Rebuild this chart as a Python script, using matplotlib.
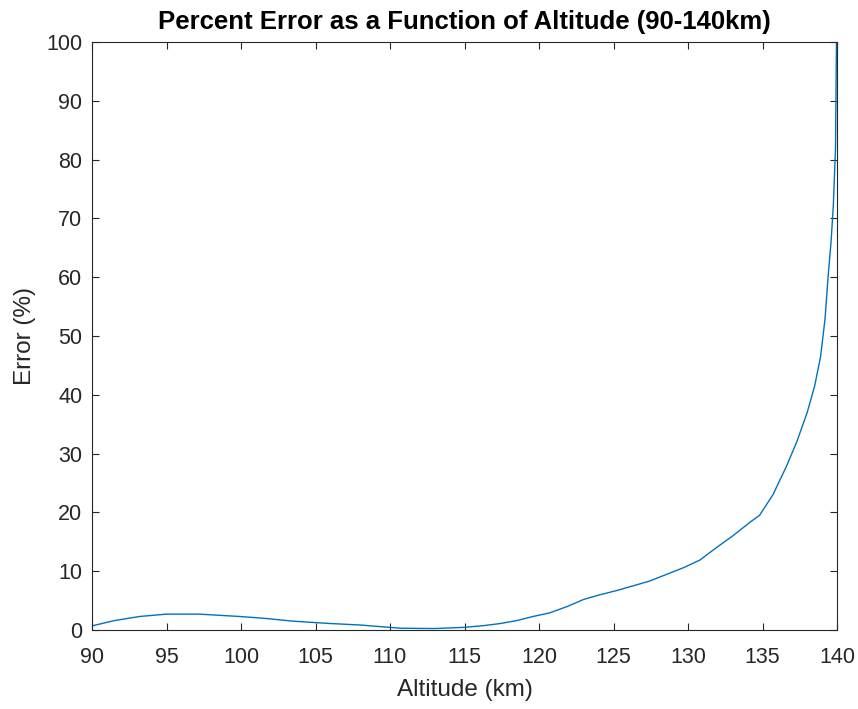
import numpy as np
import matplotlib
matplotlib.use("Agg")
import matplotlib.pyplot as plt

plt.rcParams['font.family'] = ['Liberation Sans', 'DejaVu Sans']

# values
altitude = [90.0, 91.5, 93.2, 95.0, 97.2, 99.9, 101.5, 103.5, 106.0, 108.0, 110.7,
            113.0, 115.0, 116.3, 117.4, 118.5, 119.6, 120.7, 121.9, 123.0, 124.1,
            125.2, 127.4, 129.7, 130.8, 131.9, 133.0, 134.2, 134.8, 135.7, 136.6,
            137.3, 138.0, 138.5, 138.9, 139.2, 139.4, 139.6, 139.75, 139.9, 140.0]
error_pct = [0.7, 1.6, 2.3, 2.7, 2.7, 2.3, 2.0, 1.5, 1.1, 0.85, 0.3,
             0.25, 0.45, 0.75, 1.1, 1.6, 2.3, 2.9, 4.0, 5.2, 6.0,
             6.7, 8.3, 10.6, 11.9, 14.0, 16.0, 18.4, 19.5, 23.0, 27.8,
             32.0, 37.0, 41.5, 46.5, 53.0, 60.0, 66.0, 72.0, 82.0, 110.0]

fig = plt.figure(figsize=(8.58, 7.09), dpi=100)
ax = fig.add_axes([92 / 858, 1 - 630 / 709, 745 / 858, 588 / 709])

ax.plot(altitude, error_pct, color='#0072BD', linewidth=1.0)

ax.set_xlim(90, 140)
ax.set_ylim(0, 100)
ax.set_xticks(np.arange(90, 141, 5))
ax.set_yticks(np.arange(0, 101, 10))

dark = '#262626'
for s in ax.spines.values():
    s.set_linewidth(0.8)
    s.set_color(dark)
ax.tick_params(direction='in', top=True, right=True, length=5, width=0.8,
               colors=dark, labelsize=15.5)
ax.tick_params(axis='x', pad=12)
ax.tick_params(axis='y', pad=7)

ax.set_xlabel('Altitude (km)', fontsize=17.5, color=dark, labelpad=8)
ax.set_ylabel('Error (%)', fontsize=17.5, color=dark, labelpad=7)
ax.set_title('Percent Error as a Function of Altitude (90-140km)',
             fontsize=18.5, fontweight='bold', color='black', pad=9)

fig.savefig('out.png', dpi=100)
